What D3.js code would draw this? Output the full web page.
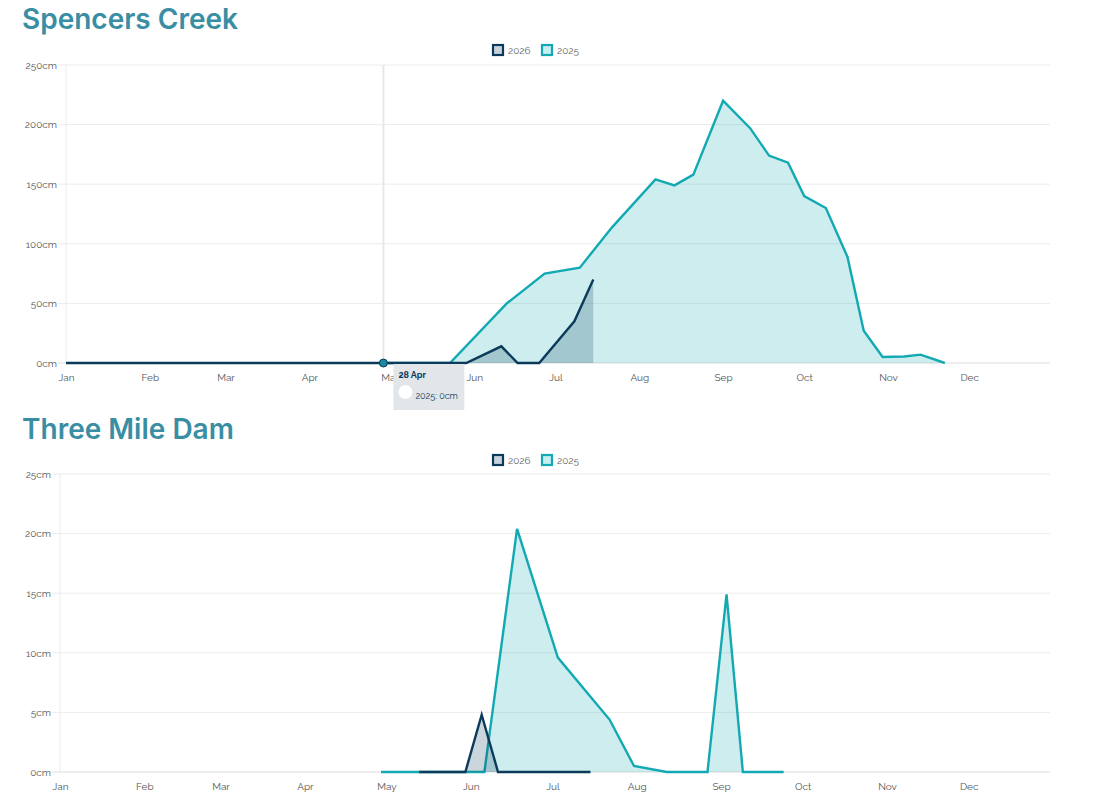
<!DOCTYPE html>
<html><head><meta charset="utf-8">
<script src="https://cdn.jsdelivr.net/npm/d3@7"></script>
<style>
body{margin:0;background:#fff;}
svg{display:block;}
</style></head>
<body>
<svg id="c" width="1101" height="804"></svg>
<script>
const monthLabels = ["Jan","Feb","Mar","Apr","May","Jun","Jul","Aug","Sep","Oct","Nov","Dec"];
const seriesNames = ["2026","2025"];

// Spencers Creek
const sc2025Dates = ["04-28","05-23","06-13","06-27","07-10","07-22","08-07","08-14","08-21","09-01","09-11","09-18","09-25","10-01","10-09","10-17","10-23","10-30","11-07","11-13","11-22"];
const sc2025Values = [0,0,50,75,80,114,154,149,158,220,197,174,168,140,130,89,27,5,5.5,7,0];
const sc2026Dates = ["01-01","05-29","06-11","06-17","06-25","07-08","07-15"];
const sc2026Values = [0,0,14,0,0,35,70];
const scTicks = [0,50,100,150,200,250];

// Three Mile Dam
const tm2025Dates = ["04-29","06-06","06-18","07-03","07-22","07-31","08-12","08-27","09-03","09-09","09-24"];
const tm2025Values = [0,0,20.4,9.6,4.4,0.5,0,0,14.9,0,0];
const tm2026Dates = ["05-13","05-30","06-05","06-11","07-15"];
const tm2026Values = [0,0,4.8,0,0];
const tmTicks = [0,5,10,15,20,25];

const tooltip = {date:"04-28", title:"28 Apr", text:"2025: 0cm"};

const parse = d3.timeParse("%Y-%m-%d");
const toDate = s => parse("2025-" + s);
const svg = d3.select("#c");
const DARK = "#0b3a5a", TEAL = "#13a9b3";

function drawChart(o){
  const g = svg.append("g");
  g.append("text").attr("x",22).attr("y",o.titleY).text(o.title)
    .attr("fill","#3a8ea4").attr("font-family","Inter, 'Open Sans', sans-serif")
    .attr("font-weight",600).attr("font-size",28);
  // legend
  const leg = g.append("g").attr("transform",`translate(0,${o.legendY})`);
  const legItems = [{n:seriesNames[0],s:DARK,f:"#c8d2da",x:492},{n:seriesNames[1],s:TEAL,f:"#c7eef0",x:541}];
  legItems.forEach(it=>{
    leg.append("rect").attr("x",it.x+1).attr("y",-5).attr("width",10).attr("height",10)
      .attr("fill",it.f).attr("stroke",it.s).attr("stroke-width",2.2);
    leg.append("text").attr("x",it.x+16).attr("y",4).text(it.n)
      .attr("font-family","Raleway, Lato, sans-serif").attr("font-size",10).attr("fill","#666");
  });
  const x = d3.scaleTime().domain([new Date(2025,0,1), new Date(2026,0,1)]).range([o.left,1053]);
  const y = d3.scaleLinear().domain([0,o.ticks[o.ticks.length-1]]).range([o.bottom,o.top]);
  // grid
  g.append("g").selectAll("line").data(o.ticks).join("line")
    .attr("x1",o.left-8).attr("x2",1050).attr("y1",d=>y(d)).attr("y2",d=>y(d))
    .attr("stroke",d=>d===0?"#dcdcdc":"#ececec").attr("stroke-width",1);
  g.append("line").attr("x1",o.left).attr("x2",o.left).attr("y1",o.top).attr("y2",o.bottom)
    .attr("stroke","#ececec");
  const yAxis = d3.axisLeft(y).tickValues(o.ticks).tickFormat(d=>d+"cm").tickSize(0).tickPadding(9);
  const ya = g.append("g").attr("transform",`translate(${o.left},0)`).call(yAxis);
  ya.select(".domain").remove();
  ya.selectAll("text").attr("font-family","Raleway, Lato, sans-serif").attr("font-size",10).attr("fill","#555");
  const months = d3.range(12).map(m=>new Date(2025,m,1));
  const xAxis = d3.axisBottom(x).tickValues(months).tickFormat((d,i)=>monthLabels[i]).tickSize(0).tickPadding(11);
  const xa = g.append("g").attr("transform",`translate(0,${o.bottom})`).call(xAxis);
  xa.select(".domain").remove();
  xa.selectAll("text").attr("font-family","Raleway, Lato, sans-serif").attr("font-size",10).attr("fill","#555");

  if(o.hover){
    const hx = x(toDate(o.hover.date)) + 1;
    g.append("line").attr("x1",hx).attr("x2",hx).attr("y1",o.top).attr("y2",o.bottom)
      .attr("stroke","#e8e8e8").attr("stroke-width",2);
  }
  const area = d3.area().x(d=>x(d.d)).y0(y(0)).y1(d=>y(d.v));
  const line = d3.line().x(d=>x(d.d)).y(d=>y(d.v));
  const s25 = o.d25.map((d,i)=>({d:toDate(d),v:o.v25[i]}));
  const s26 = o.d26.map((d,i)=>({d:toDate(d),v:o.v26[i]}));
  g.append("path").datum(s25).attr("d",area).attr("fill",TEAL).attr("fill-opacity",0.21);
  g.append("path").datum(s25).attr("d",line).attr("fill","none").attr("stroke",TEAL).attr("stroke-width",2.4).attr("stroke-linejoin","miter");
  g.append("path").datum(s26).attr("d",area).attr("fill",DARK).attr("fill-opacity",0.21);
  g.append("path").datum(s26).attr("d",line).attr("fill","none").attr("stroke",DARK).attr("stroke-width",2.4);

  if(o.hover){
    const hx = x(toDate(o.hover.date)) + 1;
    g.append("circle").attr("cx",hx).attr("cy",y(0)).attr("r",4).attr("fill","#1b8aa0").attr("stroke",DARK).attr("stroke-width",1);
    const tx = hx+10, ty = o.bottom+1;
    g.append("rect").attr("x",tx).attr("y",ty).attr("width",71).attr("height",46).attr("fill","#e3e6e9");
    g.append("text").attr("x",tx+5).attr("y",ty+14).text(o.hover.title)
      .attr("font-family","Raleway, Lato, sans-serif").attr("font-weight",700).attr("font-size",9).attr("fill",DARK);
    g.append("circle").attr("cx",tx+12).attr("cy",ty+28).attr("r",7).attr("fill","#fff");
    g.append("text").attr("x",tx+22).attr("y",ty+35).text(o.hover.text)
      .attr("font-family","Raleway, Lato, sans-serif").attr("font-size",9).attr("fill",DARK);
  }
}

drawChart({title:"Spencers Creek",titleY:29,legendY:50,left:66,top:65,bottom:363,ticks:scTicks,
  d25:sc2025Dates,v25:sc2025Values,d26:sc2026Dates,v26:sc2026Values,hover:tooltip});
drawChart({title:"Three Mile Dam",titleY:439,legendY:460,left:60,top:474,bottom:772,ticks:tmTicks,
  d25:tm2025Dates,v25:tm2025Values,d26:tm2026Dates,v26:tm2026Values});
</script>
</body></html>
